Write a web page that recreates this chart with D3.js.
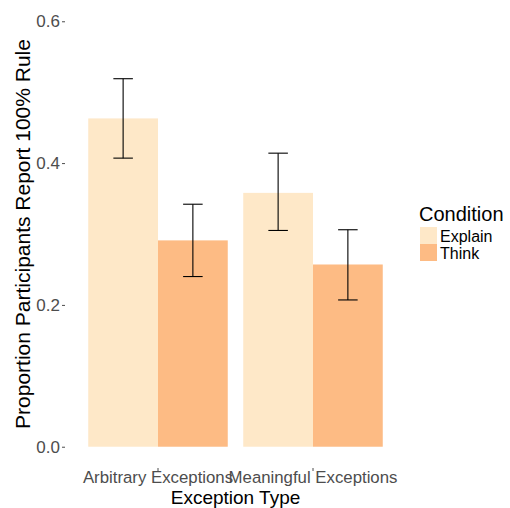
<!DOCTYPE html>
<html>
<head>
<meta charset="utf-8">
<script src="https://cdn.jsdelivr.net/npm/d3@7"></script>
<style>
  body { margin: 0; background: #fff; }
  svg { display: block; font-family: "Liberation Sans", Arial, Helvetica, sans-serif; }
</style>
</head>
<body>
<svg width="510" height="508"></svg>
<script>
const exceptionTypes = ["Arbitrary Exceptions", "Meaningful Exceptions"];
const conditions = ["Explain", "Think"];
const colors = ["#fee8c8", "#fdbb84"];

// proportion by [exception type][condition]
const means = [[0.463, 0.291], [0.358, 0.257]];
const lower = [[0.407, 0.240], [0.305, 0.207]];
const upper = [[0.519, 0.342], [0.414, 0.306]];

const yTicks = [0.0, 0.2, 0.4, 0.6];

const svg = d3.select("svg");

const panel = {left: 65, right: 406, top: 0, bottom: 468};

const x = d3.scaleBand()
  .domain(exceptionTypes)
  .range([panel.left, panel.right])
  .paddingInner(0.1)
  .paddingOuter(0.15);

const xInner = d3.scaleBand()
  .domain(conditions)
  .range([0, x.bandwidth()]);

const y = d3.scaleLinear()
  .domain([-0.03, 0.63])
  .range([panel.bottom, panel.top]);

const color = d3.scaleOrdinal().domain(conditions).range(colors);

const rows = [];
exceptionTypes.forEach((t, i) => {
  conditions.forEach((c, j) => {
    rows.push({type: t, cond: c, mean: means[i][j], lo: lower[i][j], hi: upper[i][j]});
  });
});

// bars
svg.append("g").selectAll("rect")
  .data(rows)
  .enter()
  .append("rect")
  .attr("x", d => x(d.type) + xInner(d.cond))
  .attr("y", d => y(d.mean))
  .attr("width", xInner.bandwidth())
  .attr("height", d => y(0) - y(d.mean))
  .attr("fill", d => color(d.cond));

// error bars
const capHalf = xInner.bandwidth() * 0.14;
const err = svg.append("g")
  .attr("stroke", "#000")
  .attr("stroke-width", 1.1)
  .selectAll("g")
  .data(rows)
  .enter()
  .append("g")
  .attr("transform", d => `translate(${x(d.type) + xInner(d.cond) + xInner.bandwidth() / 2},0)`);

err.append("line")
  .attr("x1", 0).attr("x2", 0)
  .attr("y1", d => y(d.lo)).attr("y2", d => y(d.hi));
err.append("line")
  .attr("x1", -capHalf).attr("x2", capHalf)
  .attr("y1", d => y(d.hi)).attr("y2", d => y(d.hi));
err.append("line")
  .attr("x1", -capHalf).attr("x2", capHalf)
  .attr("y1", d => y(d.lo)).attr("y2", d => y(d.lo));

// y axis
const yAxis = svg.append("g")
  .attr("transform", `translate(${panel.left},0)`)
  .call(d3.axisLeft(y).tickValues(yTicks).tickFormat(d3.format(".1f")).tickSize(3).tickPadding(2));
yAxis.select(".domain").remove();
yAxis.selectAll(".tick line").attr("stroke", "#4d4d4d");
yAxis.selectAll(".tick text")
  .attr("fill", "#4d4d4d")
  .style("font-size", "17px")
  .style("font-family", "inherit");

// x axis
const xAxis = svg.append("g")
  .attr("transform", `translate(0,${panel.bottom})`)
  .call(d3.axisBottom(x).tickSize(3).tickPadding(0));
xAxis.select(".domain").remove();
xAxis.selectAll(".tick line").attr("stroke", "#4d4d4d");
xAxis.selectAll(".tick text")
  .attr("fill", "#4d4d4d")
  .style("font-size", "16.8px")
  .style("font-family", "inherit");

// axis titles
svg.append("text")
  .attr("x", (panel.left + panel.right) / 2)
  .attr("y", 503.5)
  .attr("text-anchor", "middle")
  .style("font-size", "19px")
  .text("Exception Type");

svg.append("text")
  .attr("transform", `translate(30,${(panel.top + panel.bottom) / 2}) rotate(-90)`)
  .attr("text-anchor", "middle")
  .style("font-size", "21px")
  .text("Proportion Participants Report 100% Rule");

// legend
const legend = svg.append("g").attr("transform", "translate(420,0)");
legend.append("text")
  .attr("x", -1)
  .attr("y", 221)
  .style("font-size", "20px")
  .text("Condition");

const keys = legend.selectAll("g.key")
  .data(conditions)
  .enter()
  .append("g")
  .attr("class", "key")
  .attr("transform", (d, i) => `translate(0,${227 + i * 17})`);
keys.append("rect")
  .attr("width", 17)
  .attr("height", 17)
  .attr("fill", d => color(d));
keys.append("text")
  .attr("x", 20)
  .attr("y", 14.5)
  .style("font-size", "16px")
  .text(d => d);
</script>
</body>
</html>
